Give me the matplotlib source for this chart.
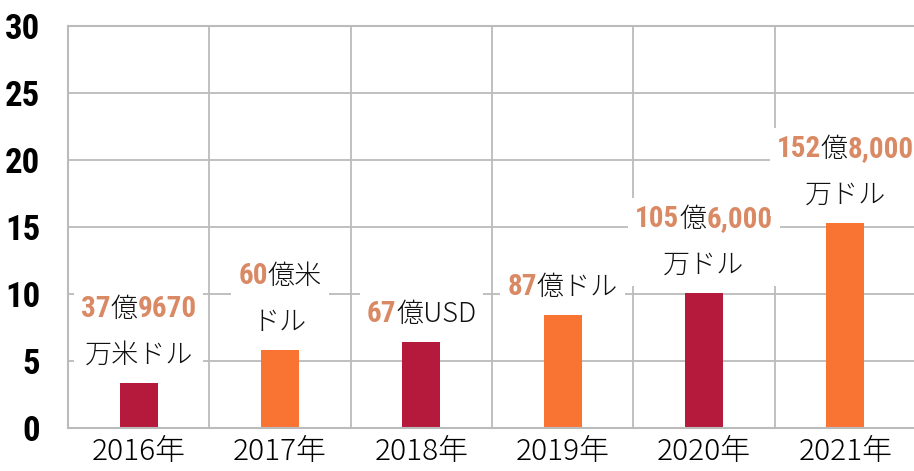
import re
import matplotlib
matplotlib.use("Agg")
import matplotlib.pyplot as plt
from matplotlib import font_manager as fm
from matplotlib.offsetbox import TextArea, HPacker, VPacker, AnnotationBbox

years = ["2016年", "2017年", "2018年", "2019年", "2020年", "2021年"]
values = [3.35, 5.8, 6.4, 8.45, 10.1, 15.3]
bar_colors = ["#B5193B", "#F97432", "#B5193B", "#F97432", "#B5193B", "#F97432"]
labels = ["37億9670\n万米ドル", "60億米\nドル", "67億USD", "87億ドル",
          "105億6,000\n万ドル", "152億8,000\n万ドル"]
yticks = [0, 5, 10, 15, 20, 25, 30]

CJK = ["Noto Sans CJK JP", "DejaVu Sans"]
NUM_COLOR = "#D98A64"
GRID = "#BBBBBB"


def find_condensed_bold():
    prefs = ["Oswald", "Bebas", "Anton", "Roboto Condensed", "Open Sans Condensed",
             "Liberation Sans Narrow", "Arial Narrow", "Noto Sans Condensed",
             "DejaVu Sans"]
    cands = []
    for f in fm.fontManager.ttflist:
        w = f.weight if isinstance(f.weight, int) else {"bold": 700}.get(f.weight, 400)
        narrow = ("Condensed" in f.name or "Narrow" in f.name
                  or "ondensed" in f.fname or "Narrow" in f.fname
                  or f.stretch in ("condensed", "semi-condensed",
                                   "extra-condensed", "ultra-condensed"))
        if not narrow or w < 600 or f.style != "normal":
            continue
        rank = len(prefs)
        for i, p in enumerate(prefs):
            if f.name.startswith(p) or p.replace(" ", "") in f.fname.replace(" ", ""):
                rank = i
                break
        cands.append((rank, abs(w - 700), f.fname))
    if cands:
        cands.sort()
        return cands[0][2]
    return fm.findfont(fm.FontProperties(family="DejaVu Sans", weight="bold"))


num_file = find_condensed_bold()


def numprop(size):
    return fm.FontProperties(fname=num_file, size=size)


fig = plt.figure(figsize=(9.14, 4.71), dpi=100)
ax = fig.add_axes([68 / 914, 1 - 428 / 471, 848 / 914, (428 - 26) / 471])

x = list(range(len(years)))
ax.bar(x, values, width=0.27, color=bar_colors, zorder=2)

ax.set_xlim(-0.5, len(years) - 0.5)
ax.set_ylim(0, 30)
ax.set_yticks(yticks)
ax.set_yticklabels([str(v) for v in yticks])
for t in ax.get_yticklabels():
    t.set_fontproperties(numprop(25))
ax.set_xticks(x)
ax.set_xticklabels(years, family=CJK, fontsize=21.5, fontweight="light")
ax.set_xticks([i + 0.5 for i in x[:-1]], minor=True)
ax.tick_params(axis="y", length=0, pad=20)
ax.tick_params(axis="x", which="both", length=0, pad=6)
ax.grid(True, axis="y", color=GRID, linewidth=1.3, zorder=0)
ax.grid(True, axis="x", which="minor", color=GRID, linewidth=1.3, zorder=0)
ax.grid(False, axis="x", which="major")
ax.set_axisbelow(True)
for side in ["left", "bottom", "top"]:
    ax.spines[side].set_color(GRID)
    ax.spines[side].set_linewidth(1.5)
ax.spines["right"].set_visible(False)


def make_line(line):
    parts = [p for p in re.split(r"([0-9,]+)", line) if p]
    children = []
    for p in parts:
        if re.fullmatch(r"[0-9,]+", p):
            children.append(TextArea(p, textprops=dict(
                fontproperties=numprop(21), color=NUM_COLOR)))
        else:
            children.append(TextArea(p, textprops=dict(
                family=CJK, fontsize=19.5, fontweight="light", color="#111111")))
    return HPacker(children=children, align="baseline", pad=0, sep=0)


for xi, v, lab in zip(x, values, labels):
    lines = [make_line(l) for l in lab.split("\n")]
    box = VPacker(children=lines, align="center", pad=0, sep=13)
    ab = AnnotationBbox(box, (xi, v), xybox=(0, 10), xycoords="data",
                        boxcoords="offset points", box_alignment=(0.5, 0),
                        frameon=True, pad=0.5,
                        bboxprops=dict(facecolor="white", edgecolor="none"),
                        zorder=3)
    ax.add_artist(ab)

fig.savefig("out.png", dpi=100)
